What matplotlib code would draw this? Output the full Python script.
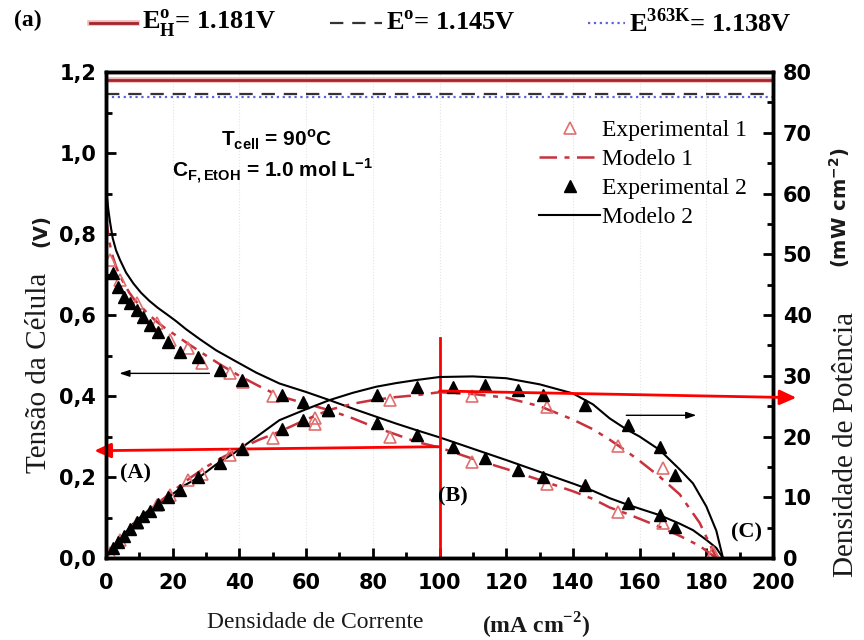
import numpy as np
import matplotlib
matplotlib.use('Agg')
import matplotlib.pyplot as plt
from matplotlib.ticker import MultipleLocator, FuncFormatter
from matplotlib.lines import Line2D
import matplotlib.patheffects as pe

# potenciais de referencia (V)
E_h = 1.181
E_0 = 1.145
E_363 = 1.138

# Experimental 1 (triangulos abertos)
i_exp1 = [1.2, 4.2, 9.2, 15.2, 19.2, 24.7, 28.7, 37.2, 41.2, 50.2, 62.7, 85.2, 109.6, 132.1, 153.6, 167.1, 182.0]
v_exp1 = [0.736, 0.686, 0.629, 0.580, 0.538, 0.518, 0.481, 0.456, 0.435, 0.400, 0.345, 0.300, 0.238, 0.184, 0.114, 0.086, 0.012]
p_exp1 = [0.9, 2.9, 5.8, 8.8, 10.3, 12.8, 13.8, 17.0, 17.9, 19.8, 22.0, 26.0, 26.6, 24.9, 18.5, 14.8, 1.0]

# Experimental 2 (triangulos cheios)
i_exp2 = [2.2, 3.6, 5.5, 7.2, 9.2, 11.2, 13.2, 15.7, 18.7, 22.2, 27.7, 34.2, 40.7, 52.7, 59.2, 66.7,
          81.2, 93.2, 104.1, 113.6, 123.6, 131.1, 143.6, 156.6, 166.1, 170.6]
v_exp2 = [0.703, 0.670, 0.645, 0.629, 0.612, 0.595, 0.575, 0.559, 0.534, 0.509, 0.497, 0.464, 0.440, 0.402,
          0.386, 0.365, 0.333, 0.304, 0.275, 0.246, 0.217, 0.201, 0.180, 0.135, 0.106, 0.077]
p_exp2 = [1.6, 2.6, 3.7, 4.8, 5.9, 6.9, 7.8, 8.9, 10.0, 11.2, 13.3, 15.7, 18.0, 21.3, 22.7, 24.4,
          26.8, 28.2, 28.2, 28.5, 27.7, 26.8, 25.2, 21.9, 18.3, 13.7]

# Modelo 1
i_mod1 = [0, 0.5, 1, 2, 3, 4, 5.5, 7, 8.5, 10, 12.5, 15, 17.5, 20, 25, 30, 35, 40, 46, 52, 60, 67, 74, 80,
          87, 93, 100, 110, 120, 130, 140, 146, 151, 156, 160, 166, 172, 178, 183]
v_mod1 = [0.84, 0.81, 0.78, 0.745, 0.72, 0.70, 0.676, 0.655, 0.638, 0.625, 0.604, 0.585, 0.569, 0.555,
          0.527, 0.50, 0.474, 0.45, 0.424, 0.40, 0.381, 0.365, 0.345, 0.325, 0.305, 0.287, 0.273, 0.245, 0.22,
          0.193, 0.165, 0.146, 0.125, 0.110, 0.097, 0.077, 0.055, 0.03, 0.0]
ip_mod1 = [0, 2, 4, 7, 10, 15, 20, 25, 30, 35, 40, 46, 52, 60, 67, 74, 80, 87, 93, 100, 110, 120, 130, 140,
           146, 151, 156, 160, 166, 172, 178, 183]
p_mod1 = [0, 1.5, 2.8, 4.6, 6.2, 8.8, 11.0, 13.1, 15.0, 16.6, 18.0, 19.5, 20.8, 22.8, 24.4, 25.4, 26.0, 26.5,
          26.8, 27.3, 27.0, 26.4, 25.0, 22.8, 21.2, 19.5, 17.6, 16.0, 13.4, 10.5, 5.8, 0]

# Modelo 2
i_mod2 = [0, 0.3, 0.7, 1.2, 2, 3, 4.2, 6, 8.2, 10.5, 13, 15.5, 18.2, 21, 24, 28.2, 33, 38.2, 45, 52, 60, 67,
          74, 81, 87, 93, 100, 110, 120, 130, 140, 146, 151, 156, 160, 166, 172, 176, 180, 183, 185]
v_mod2 = [0.93, 0.89, 0.86, 0.83, 0.79, 0.76, 0.736, 0.705, 0.678, 0.655, 0.635, 0.618, 0.602, 0.585, 0.565,
          0.540, 0.513, 0.489, 0.458, 0.431, 0.41, 0.39, 0.369, 0.349, 0.332, 0.316, 0.298, 0.27, 0.242, 0.213,
          0.184, 0.166, 0.148, 0.133, 0.122, 0.106, 0.085, 0.069, 0.045, 0.025, 0.0]
ip_mod2 = [0, 2, 4, 8.2, 13, 18.2, 23, 28.2, 33, 38.2, 45, 52, 60, 67, 74, 81, 87, 93, 100, 110, 120, 130,
           140, 146, 151, 156, 160, 166, 172, 176, 180, 183, 185]
p_mod2 = [0, 1.6, 3.0, 5.7, 8.0, 9.8, 11.8, 13.4, 15.4, 17.2, 19.9, 22.7, 24.5, 26.0, 27.2, 28.2, 28.8, 29.3,
          29.8, 29.9, 29.6, 28.6, 27.1, 25.3, 23.0, 21.2, 20.0, 17.8, 14.6, 12.3, 8.5, 4.5, 0]

red1 = '#e07070'
red_mod = '#c8323c'

fig = plt.figure(figsize=(8.64, 6.4), dpi=100)
ax = fig.add_axes([0.1227, 0.128, 0.772, 0.7595])
ax2 = ax.twinx()

ax.set_xlim(0, 200)
ax.set_ylim(0, 1.2)
ax2.set_ylim(0, 80)

ax.grid(axis='x', color='#e4e4e4', linestyle=':', lw=0.8)

# linhas dos potenciais
st_h = dict(color='#a8232b', lw=2.0, path_effects=[pe.Stroke(linewidth=4, foreground='#f0b8b8'), pe.Normal()])
st_0 = dict(color='#333333', lw=1.6, dashes=(6, 4))
st_363 = dict(color='#6060e0', lw=1.6, linestyle=':')
ax.axhline(E_h, **st_h)
ax.axhline(E_0, **st_0)
ax.axhline(E_363, **st_363)

# curvas de polarizacao
ax.plot(i_mod2, v_mod2, color='black', lw=1.5)
ax.plot(i_mod1, v_mod1, color=red_mod, lw=1.8, dashes=(7, 3, 2, 3))
ax.plot(i_exp1, v_exp1, '^', ms=9, mfc='none', mec=red1, mew=1.2)
ax.plot(i_exp2, v_exp2, '^', ms=9, color='black')

# curvas de potencia
ax2.plot(ip_mod2, p_mod2, color='black', lw=1.5)
ax2.plot(ip_mod1, p_mod1, color=red_mod, lw=1.8, dashes=(7, 3, 2, 3))
ax2.plot(i_exp1, p_exp1, '^', ms=9, mfc='none', mec=red1, mew=1.2)
ax2.plot(i_exp2, p_exp2, '^', ms=9, color='black')

# linha em 100 mA cm-2 e setas vermelhas
ax.plot([100, 100], [0, 0.543], color='red', lw=2)
ax.annotate('', xy=(-3.5, 0.265), xytext=(100, 0.275), annotation_clip=False,
            arrowprops=dict(arrowstyle='-|>,head_length=1.0,head_width=0.45', color='red', lw=2,
                            shrinkA=0, shrinkB=0))
ax2.annotate('', xy=(207, 26.4), xytext=(100, 27.5), annotation_clip=False,
             arrowprops=dict(arrowstyle='-|>,head_length=1.0,head_width=0.45', color='red', lw=2,
                             shrinkA=0, shrinkB=0))

# setas pretas indicando o eixo
ax.annotate('', xy=(4, 0.456), xytext=(31, 0.456),
            arrowprops=dict(arrowstyle='-|>,head_length=0.6,head_width=0.2', color='black', lw=1,
                            shrinkA=0, shrinkB=0))
ax2.annotate('', xy=(177, 23.5), xytext=(156, 23.5),
             arrowprops=dict(arrowstyle='-|>,head_length=0.6,head_width=0.2', color='black', lw=1,
                             shrinkA=0, shrinkB=0))

lbl = dict(family='Liberation Serif', weight='bold', fontsize=16)
ax.text(8.7, 0.21, '(A)', ha='center', va='center', **lbl)
ax.text(104, 0.152, '(B)', ha='center', va='center', **lbl)
ax.text(192, 0.062, '(C)', ha='center', va='center', **lbl)

txt = dict(family='Liberation Sans', weight='bold', fontsize=15)
ax.text(51, 1.032, r'T$_\mathregular{cell}$ = 90$^\mathregular{o}$C', ha='center', va='center', **txt)
ax.text(50, 0.955, r'C$_\mathregular{F,EtOH}$ = 1.0 mol L$^\mathregular{-1}$', ha='center', va='center', **txt)

# eixos
for a in (ax, ax2):
    for s in a.spines.values():
        s.set_linewidth(2.5)
ax.xaxis.set_major_locator(MultipleLocator(20))
ax.xaxis.set_minor_locator(MultipleLocator(10))
ax.yaxis.set_major_locator(MultipleLocator(0.2))
ax.yaxis.set_minor_locator(MultipleLocator(0.1))
ax2.yaxis.set_major_locator(MultipleLocator(10))
ax2.yaxis.set_minor_locator(MultipleLocator(5))
ax.yaxis.set_major_formatter(FuncFormatter(lambda v, p: ('%.1f' % v).replace('.', ',')))
ax.tick_params(which='both', direction='in', width=2, top=False, right=False)
ax.tick_params(which='major', length=7, labelsize=15)
ax.tick_params(axis='x', which='major', pad=11)
ax.tick_params(axis='y', which='major', pad=7)
ax.tick_params(which='minor', length=4)
ax2.tick_params(which='both', direction='in', width=2)
ax2.tick_params(which='major', length=7, labelsize=15, pad=7)
ax2.tick_params(which='minor', length=4)
for t in ax.get_xticklabels() + ax.get_yticklabels() + ax2.get_yticklabels():
    t.set_fontweight('bold')

serif = dict(family='Liberation Serif', fontsize=17, color='#1a1a1a')
vserif = dict(family='Liberation Serif', fontsize=21, color='#1a1a1a')
bold = dict(family='DejaVu Sans', weight='bold', fontsize=14, color='#1a1a1a')
fig.text(0.045, 0.417, 'Tensão da Célula', rotation=90, ha='center', va='center', **vserif)
fig.text(0.047, 0.64, '(V)', rotation=90, ha='center', va='center', **bold)
fig.text(0.979, 0.305, 'Densidade de Potência', rotation=90, ha='center', va='center', **vserif)
fig.text(0.972, 0.675, r'(mW cm$^\mathregular{-2}$)', rotation=90, ha='center', va='center', **bold)
fig.text(0.365, 0.028, 'Densidade de Corrente', ha='center', va='center', **serif)
fig.text(0.621, 0.022, r'(mA cm$^\mathregular{-2}$)', ha='center', va='center',
         family='Liberation Serif', weight='bold', fontsize=17, color='#1a1a1a')

# legenda interna
hs = [Line2D([], [], ls='none', marker='^', ms=9, mfc='none', mec=red1, mew=1.2),
      Line2D([], [], color=red_mod, lw=1.8, dashes=(7, 3, 2, 3)),
      Line2D([], [], ls='none', marker='^', ms=9, color='black'),
      Line2D([], [], color='black', lw=1.5)]
ax2.legend(hs, ['Experimental 1', 'Modelo 1', 'Experimental 2', 'Modelo 2'], loc='upper left',
           bbox_to_anchor=(0.635, 0.922), frameon=False, handlelength=2.6, handletextpad=0.05,
           labelspacing=0.32, borderaxespad=0, prop=dict(family='Liberation Serif', size=17))

# legenda dos potenciais, acima do grafico (montada a mao)
fig.text(0.016, 0.968, '(a)', family='Liberation Serif', weight='bold', fontsize=17, va='center')
ytop = 0.964
top_items = [(0.104, 0.159, st_h, r'E$_\mathregular{H}^\mathregular{o}$= 1.181V'),
             (0.382, 0.442, st_0, r'E$^\mathregular{o}$= 1.145V'),
             (0.681, 0.723, st_363, r'E$^\mathregular{363K}$= 1.138V')]
for x0, x1, st, lab in top_items:
    fig.add_artist(Line2D([x0, x1], [ytop, ytop], transform=fig.transFigure, **st))
    fig.text(x1 + 0.005, ytop, lab, ha='left', va='center', family='Liberation Serif',
             weight='bold', fontsize=19)

fig.savefig('out.png', dpi=100)
